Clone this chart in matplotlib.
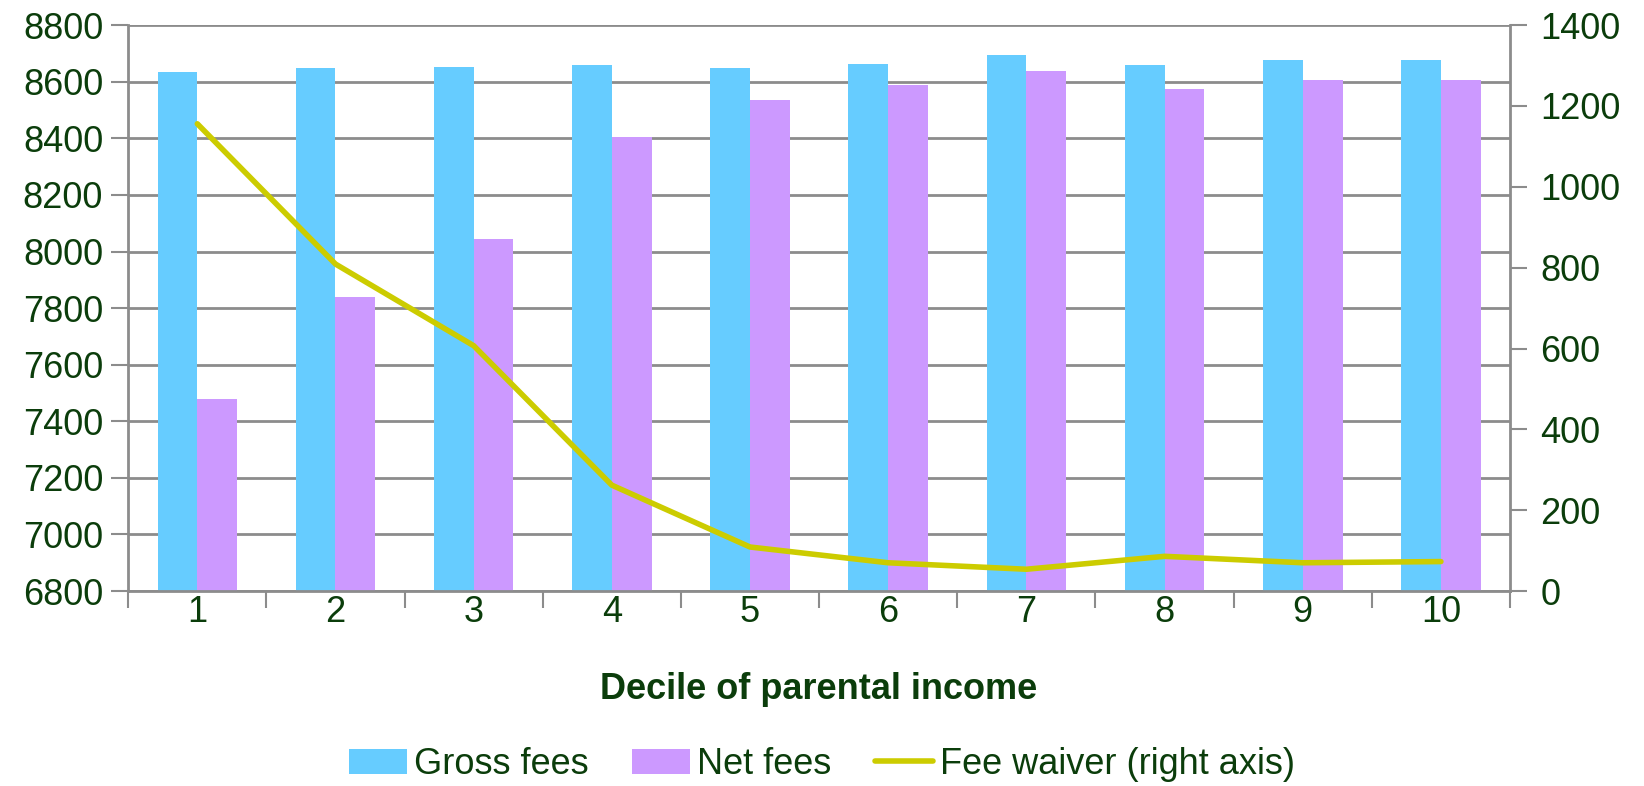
import numpy as np
import matplotlib
matplotlib.use('Agg')
import matplotlib.pyplot as plt

plt.rcParams['font.family'] = ['Liberation Sans', 'DejaVu Sans']

deciles = ['1', '2', '3', '4', '5', '6', '7', '8', '9', '10']
gross = [8633, 8648, 8652, 8659, 8648, 8663, 8693, 8659, 8678, 8678]
net = [7478, 7841, 8044, 8404, 8537, 8589, 8637, 8574, 8607, 8607]
waiver = [1156, 809, 607, 262, 109, 70, 54, 86, 70, 73]

txt = '#0b3d0b'
grey = '#8c8c8c'
fs = 26

fig = plt.figure(figsize=(16.44, 7.86), dpi=100)
ax = fig.add_axes([0.078, 0.248, 0.8405, 0.72])
x = np.arange(len(deciles))
w = 0.288
ax.bar(x - w/2, gross, w, color='#66ccff', label='Gross fees', zorder=2)
ax.bar(x + w/2, net, w, color='#cc99ff', label='Net fees', zorder=2)
ax.set_ylim(6800, 8800)
ax.set_xlim(-0.5, 9.5)
ax.set_yticks(np.arange(6800, 8801, 200))
ax.yaxis.grid(True, color=grey, lw=2, zorder=0)
ax.set_axisbelow(True)
ax.set_xticks(np.arange(-0.5, 10, 1))
ax.set_xticklabels([])
ax.set_xticks(x, minor=True)
ax.set_xticklabels(deciles, minor=True)
ax.tick_params(axis='x', which='major', length=12, width=1.5, color=grey, direction='out')
ax.tick_params(axis='x', which='minor', length=0, labelsize=fs, labelcolor=txt, pad=3)
ax.tick_params(axis='y', length=12, width=1.5, color=grey, labelsize=fs, labelcolor=txt, pad=6)
for s in ['top', 'right']:
    ax.spines[s].set_visible(False)
for s in ['left', 'bottom']:
    ax.spines[s].set_color(grey)
    ax.spines[s].set_linewidth(2)
ax.set_xlabel('Decile of parental income', fontsize=fs, fontweight='bold', color=txt, labelpad=30)

ax2 = ax.twinx()
ax2.plot(x, waiver, color='#cccc00', lw=4, label='Fee waiver (right axis)', solid_capstyle='round', zorder=3)
ax2.set_ylim(0, 1400)
ax2.set_yticks(np.arange(0, 1401, 200))
ax2.tick_params(axis='y', length=12, width=1.5, color=grey, labelsize=fs, labelcolor=txt, pad=10)
for s in ['top', 'left', 'bottom']:
    ax2.spines[s].set_visible(False)
ax2.spines['right'].set_color(grey)
ax2.spines['right'].set_linewidth(2)

h1, l1 = ax.get_legend_handles_labels()
h2, l2 = ax2.get_legend_handles_labels()
fig.legend(h1 + h2, l1 + l2, loc='lower center', bbox_to_anchor=(0.5, -0.036), ncol=3,
           frameon=False, fontsize=fs, labelcolor=txt, handlelength=1.6, handletextpad=0.2,
           columnspacing=1.2)

fig.savefig('out.png', dpi=100)
